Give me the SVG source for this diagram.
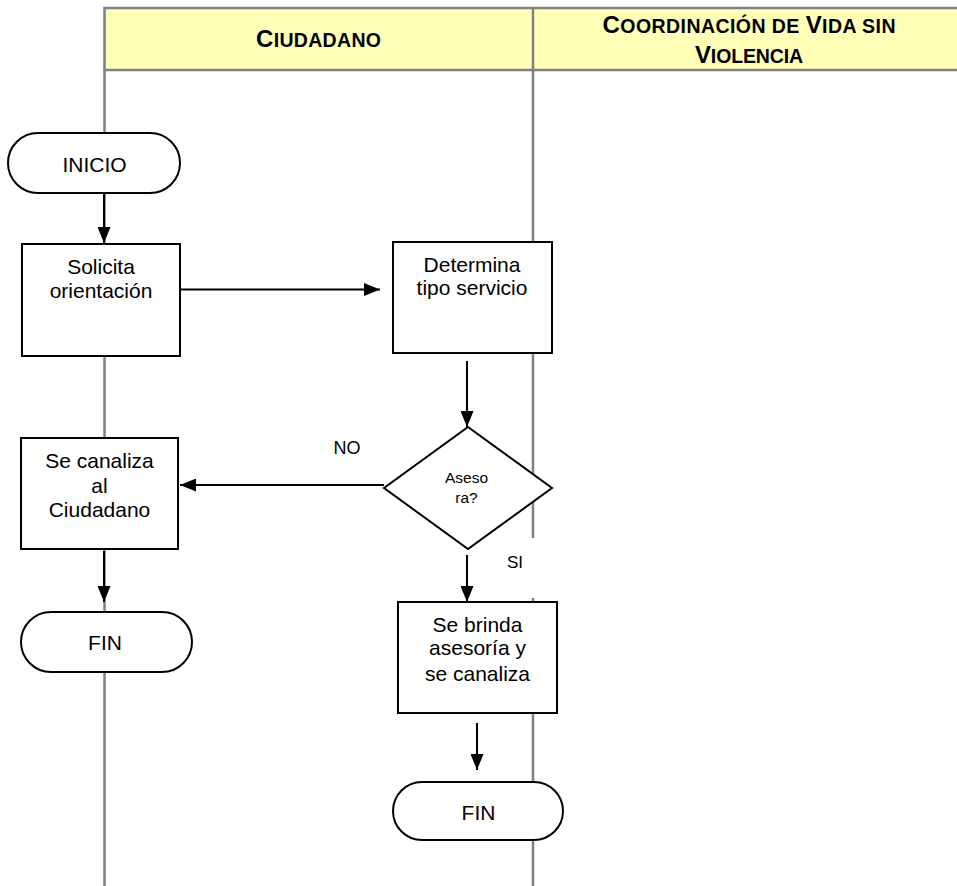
<svg xmlns="http://www.w3.org/2000/svg" width="957" height="886" viewBox="0 0 957 886">
<defs>
<style>
.lane{stroke:#808080;stroke-width:2.5;fill:none}
.hdr{fill:#FFFFB8;stroke:#808080;stroke-width:2.5}
.hd{font-family:"Liberation Sans",Arial,sans-serif;font-weight:bold;fill:#000;text-anchor:middle}
.big{font-size:24px}
.sm{font-size:19.5px}
.shape{fill:#fff;stroke:#000;stroke-width:2}
.t{font-family:"Liberation Sans",Arial,sans-serif;font-size:21px;fill:#000;text-anchor:middle}
.lbl{font-family:"Liberation Sans",Arial,sans-serif;fill:#000;text-anchor:middle}
.conn{stroke:#000;stroke-width:2;fill:none;marker-end:url(#ah)}
</style>
<marker id="ah" markerUnits="userSpaceOnUse" markerWidth="16" markerHeight="13" refX="16" refY="6.5" orient="auto">
<path d="M0,0 L16,6.5 L0,13 z" fill="#000"/>
</marker>
</defs>
<rect width="957" height="886" fill="#fff"/>
<g id="lanes">
<rect class="hdr" x="104.5" y="8" width="880" height="62"/>
<line class="lane" x1="533" y1="8" x2="533" y2="70"/>
<line class="lane" x1="104.5" y1="70" x2="104.5" y2="886"/>
<line class="lane" x1="533" y1="70" x2="533" y2="538"/>
<line class="lane" x1="533" y1="598" x2="533" y2="886"/>
<text class="hd" x="318.5" y="47" textLength="125" lengthAdjust="spacing"><tspan class="big">C</tspan><tspan class="sm">IUDADANO</tspan></text>
<text class="hd" x="749" y="33" textLength="293" lengthAdjust="spacing"><tspan class="big">C</tspan><tspan class="sm">OORDINACIÓN DE </tspan><tspan class="big">V</tspan><tspan class="sm">IDA SIN</tspan></text>
<text class="hd" x="749" y="63" textLength="108" lengthAdjust="spacing"><tspan class="big">V</tspan><tspan class="sm">IOLENCIA</tspan></text>
</g>
<g id="connectors">
<line class="conn" x1="104" y1="193" x2="104" y2="243"/>
<line class="conn" x1="180" y1="289.5" x2="380" y2="289.5"/>
<line class="conn" x1="467" y1="361" x2="467" y2="427"/>
<line class="conn" x1="384" y1="485" x2="180" y2="485"/>
<line class="conn" x1="467" y1="555" x2="467" y2="602"/>
<line class="conn" x1="104" y1="551" x2="104" y2="602"/>
<line class="conn" x1="477" y1="723" x2="477" y2="770"/>
<text class="lbl" x="347" y="454" font-size="18">NO</text>
<text class="lbl" x="515" y="568" font-size="17">SI</text>
</g>
<g id="inicio">
<rect class="shape" x="8" y="133" width="172" height="60" rx="30" ry="30"/>
<text class="t" x="94.5" y="172">INICIO</text>
</g>
<g id="solicita">
<rect class="shape" x="22" y="244" width="158" height="112"/>
<text class="t" x="101" y="274">Solicita</text>
<text class="t" x="101" y="298">orientación</text>
</g>
<g id="determina">
<rect class="shape" x="393" y="242" width="159" height="111"/>
<text class="t" x="472" y="272">Determina</text>
<text class="t" x="472" y="295">tipo servicio</text>
</g>
<g id="asesora">
<polygon class="shape" points="468,427 552,488 468,549 384,488"/>
<text class="lbl" x="466.5" y="483" font-size="15.5">Aseso</text>
<text class="lbl" x="466.5" y="503" font-size="15.5">ra?</text>
</g>
<g id="canaliza">
<rect class="shape" x="21" y="438" width="157" height="111"/>
<text class="t" x="99.5" y="468">Se canaliza</text>
<text class="t" x="99.5" y="493">al</text>
<text class="t" x="99.5" y="517">Ciudadano</text>
</g>
<g id="fin1">
<rect class="shape" x="21" y="612" width="171" height="60" rx="30" ry="30"/>
<text class="t" x="105" y="650">FIN</text>
</g>
<g id="brinda">
<rect class="shape" x="398" y="602" width="159" height="111"/>
<text class="t" x="477.5" y="632">Se brinda</text>
<text class="t" x="477.5" y="655">asesoría y</text>
<text class="t" x="477.5" y="681">se canaliza</text>
</g>
<g id="fin2">
<rect class="shape" x="393" y="782" width="170" height="58" rx="29" ry="29"/>
<text class="t" x="478.5" y="820">FIN</text>
</g>
</svg>
